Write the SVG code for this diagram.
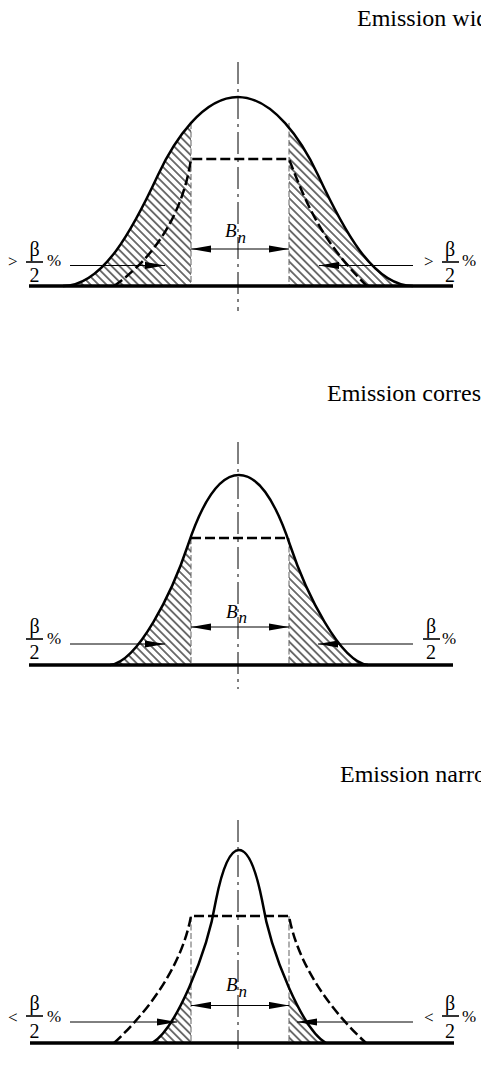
<svg xmlns="http://www.w3.org/2000/svg" width="481" height="1065" viewBox="0 0 481 1065">
<style>
  .title{font-family:"Liberation Serif","Times New Roman",serif;font-size:24px;fill:#000}
  .sym{font-family:"Liberation Serif","Times New Roman",serif;font-size:20px;fill:#000}
  .cmp{font-family:"Liberation Serif","Times New Roman",serif;font-size:17px;fill:#000}
  .pct{font-family:"Liberation Serif","Times New Roman",serif;font-size:17px;fill:#000}
  .bn{font-family:"Liberation Serif","Times New Roman",serif;font-size:19px;font-style:italic;fill:#000}
  .sub{font-family:"Liberation Serif","Times New Roman",serif;font-size:17px;font-style:italic;fill:#000}
  .curve{fill:none;stroke:#000;stroke-width:2.5;stroke-linejoin:round}
  .mask{fill:none;stroke:#000;stroke-width:2.5;stroke-dasharray:10 4}
  .guide{fill:none;stroke:#6e6e6e;stroke-width:1.1;stroke-dasharray:6 2.5}
  .axis{fill:none;stroke:#000;stroke-width:1;stroke-dasharray:22 5 3 5}
  .base{fill:none;stroke:#000;stroke-width:3.5}
  .arr{fill:none;stroke:#000;stroke-width:1;marker-end:url(#ah)}
  .dim{fill:none;stroke:#000;stroke-width:1;marker-start:url(#ah);marker-end:url(#ah)}
  .bar{stroke:#000;stroke-width:1.6}
  .hatch{fill:url(#hatch);stroke:none;clip-path:url(#outside)}
</style>
<defs>
  <pattern id="hatch" patternUnits="userSpaceOnUse" width="5.6" height="5.6" patternTransform="rotate(-45)">
    <line x1="2.8" y1="0" x2="2.8" y2="5.6" stroke="#000" stroke-width="1.1"/>
  </pattern>
  <clipPath id="outside">
    <rect x="0" y="0" width="191" height="1065"/>
    <rect x="289" y="0" width="192" height="1065"/>
  </clipPath>
  <marker id="ah" viewBox="0 0 20 8" refX="20" refY="4" markerWidth="20" markerHeight="8" markerUnits="userSpaceOnUse" orient="auto-start-reverse">
    <path d="M0,0.4 L20,4 L0,7.6 Z" fill="#000"/>
  </marker>
</defs>

<!-- Panel 1: emission wider -->
<g id="panel-wide">
  <text class="title" x="357" y="26">Emission wid</text>
  <path class="hatch" d="M63,286 C103,286 133,228.75 158,175 C174,140.6 203,97 238,97 C273,97 302,140.6 318,175 C343,228.75 373,286 413,286 Z"/>
  <line class="guide" x1="191" y1="123" x2="191" y2="286"/>
  <line class="guide" x1="289" y1="123" x2="289" y2="286"/>
  <line class="axis" x1="238" y1="62" x2="238" y2="311"/>
  <path class="curve" d="M63,286 C103,286 133,228.75 158,175 C174,140.6 203,97 238,97 C273,97 302,140.6 318,175 C343,228.75 373,286 413,286"/>
  <path class="mask" d="M114,286 C165,250 185,200 191,159 L289,159 C305,200 320,240 367,286"/>
  <line class="base" x1="29" y1="286" x2="453" y2="286"/>
</g>

<!-- Panel 2: emission corresponding -->
<g id="panel-corresponding">
  <text class="title" x="327" y="401">Emission corres</text>
  <path class="hatch" d="M110,665 C138,662 172,593 188,545 C198,515 215,475 239,475 C263,475 280,515 290,545 C306,593 340,662 368,665 Z"/>
  <line class="guide" x1="191" y1="538" x2="191" y2="665"/>
  <line class="guide" x1="289" y1="538" x2="289" y2="665"/>
  <line class="axis" x1="238" y1="442" x2="238" y2="689"/>
  <path class="curve" d="M110,665 C138,662 172,593 188,545 C198,515 215,475 239,475 C263,475 280,515 290,545 C306,593 340,662 368,665"/>
  <line class="mask" x1="191" y1="538" x2="289" y2="538"/>
  <line class="base" x1="29" y1="665" x2="453" y2="665"/>
</g>

<!-- Panel 3: emission narrower -->
<g id="panel-narrow">
  <text class="title" x="340" y="782">Emission narro</text>
  <path class="hatch" d="M152,1043 C175,1030 207,955 216,900 C221,875 228.5,850 239,850 C249.5,850 257,875 262,900 C271,955 303,1030 326,1043 Z"/>
  <line class="guide" x1="191" y1="916" x2="191" y2="1043"/>
  <line class="guide" x1="289" y1="916" x2="289" y2="1043"/>
  <line class="axis" x1="238" y1="820" x2="238" y2="1049"/>
  <path class="curve" d="M152,1043 C175,1030 207,955 216,900 C221,875 228.5,850 239,850 C249.5,850 257,875 262,900 C271,955 303,1030 326,1043"/>
  <path class="mask" d="M114,1043 C155,1005 183,960 191,916 L289,916 C297,960 325,1005 366,1043"/>
  <line class="base" x1="30" y1="1043" x2="454" y2="1043"/>
</g>

<!-- Connectors (dimension and pointer arrows) -->
<g id="connectors">
  <line class="dim" x1="191" y1="249" x2="289" y2="249"/>
  <line class="arr" x1="70" y1="265.5" x2="165" y2="265.5"/>
  <line class="arr" x1="413" y1="265.5" x2="319" y2="265.5"/>
  <line class="dim" x1="191" y1="627" x2="289" y2="627"/>
  <line class="arr" x1="70" y1="644" x2="165" y2="644"/>
  <line class="arr" x1="413" y1="644" x2="318" y2="644"/>
  <line class="dim" x1="191" y1="1005.5" x2="289" y2="1005.5"/>
  <line class="arr" x1="70" y1="1022" x2="177" y2="1022"/>
  <line class="arr" x1="413" y1="1022" x2="297" y2="1022"/>
</g>

<!-- Labels -->
<g id="label-bn-1"><text class="bn" x="225" y="237">B<tspan class="sub" dx="1" dy="6">n</tspan></text></g>
<g id="label-bn-2"><text class="bn" x="226" y="618">B<tspan class="sub" dx="1" dy="5">n</tspan></text></g>
<g id="label-bn-3"><text class="bn" x="226" y="991">B<tspan class="sub" dx="1" dy="6">n</tspan></text></g>

<g id="label-left-1">
  <text class="cmp" x="8" y="267">&gt;</text>
  <text class="sym" x="34.5" y="256" text-anchor="middle">β</text>
  <line class="bar" x1="26" y1="262" x2="43" y2="262"/>
  <text class="sym" x="34.5" y="282" text-anchor="middle">2</text>
  <text class="pct" x="47" y="266">%</text>
</g>
<g id="label-right-1">
  <text class="cmp" x="424" y="267">&gt;</text>
  <text class="sym" x="450" y="256" text-anchor="middle">β</text>
  <line class="bar" x1="442" y1="262" x2="459" y2="262"/>
  <text class="sym" x="450" y="282" text-anchor="middle">2</text>
  <text class="pct" x="462" y="266">%</text>
</g>
<g id="label-left-2">
  <text class="sym" x="34.5" y="633" text-anchor="middle">β</text>
  <line class="bar" x1="26" y1="639" x2="43" y2="639"/>
  <text class="sym" x="34.5" y="659" text-anchor="middle">2</text>
  <text class="pct" x="47" y="644">%</text>
</g>
<g id="label-right-2">
  <text class="sym" x="431" y="633" text-anchor="middle">β</text>
  <line class="bar" x1="423" y1="639" x2="440" y2="639"/>
  <text class="sym" x="431" y="659" text-anchor="middle">2</text>
  <text class="pct" x="442" y="644">%</text>
</g>
<g id="label-left-3">
  <text class="cmp" x="8" y="1023">&lt;</text>
  <text class="sym" x="34.5" y="1010" text-anchor="middle">β</text>
  <line class="bar" x1="26" y1="1016" x2="43" y2="1016"/>
  <text class="sym" x="34.5" y="1038" text-anchor="middle">2</text>
  <text class="pct" x="47" y="1022">%</text>
</g>
<g id="label-right-3">
  <text class="cmp" x="424" y="1023">&lt;</text>
  <text class="sym" x="450" y="1010" text-anchor="middle">β</text>
  <line class="bar" x1="442" y1="1016" x2="459" y2="1016"/>
  <text class="sym" x="450" y="1038" text-anchor="middle">2</text>
  <text class="pct" x="462" y="1022">%</text>
</g>
</svg>
